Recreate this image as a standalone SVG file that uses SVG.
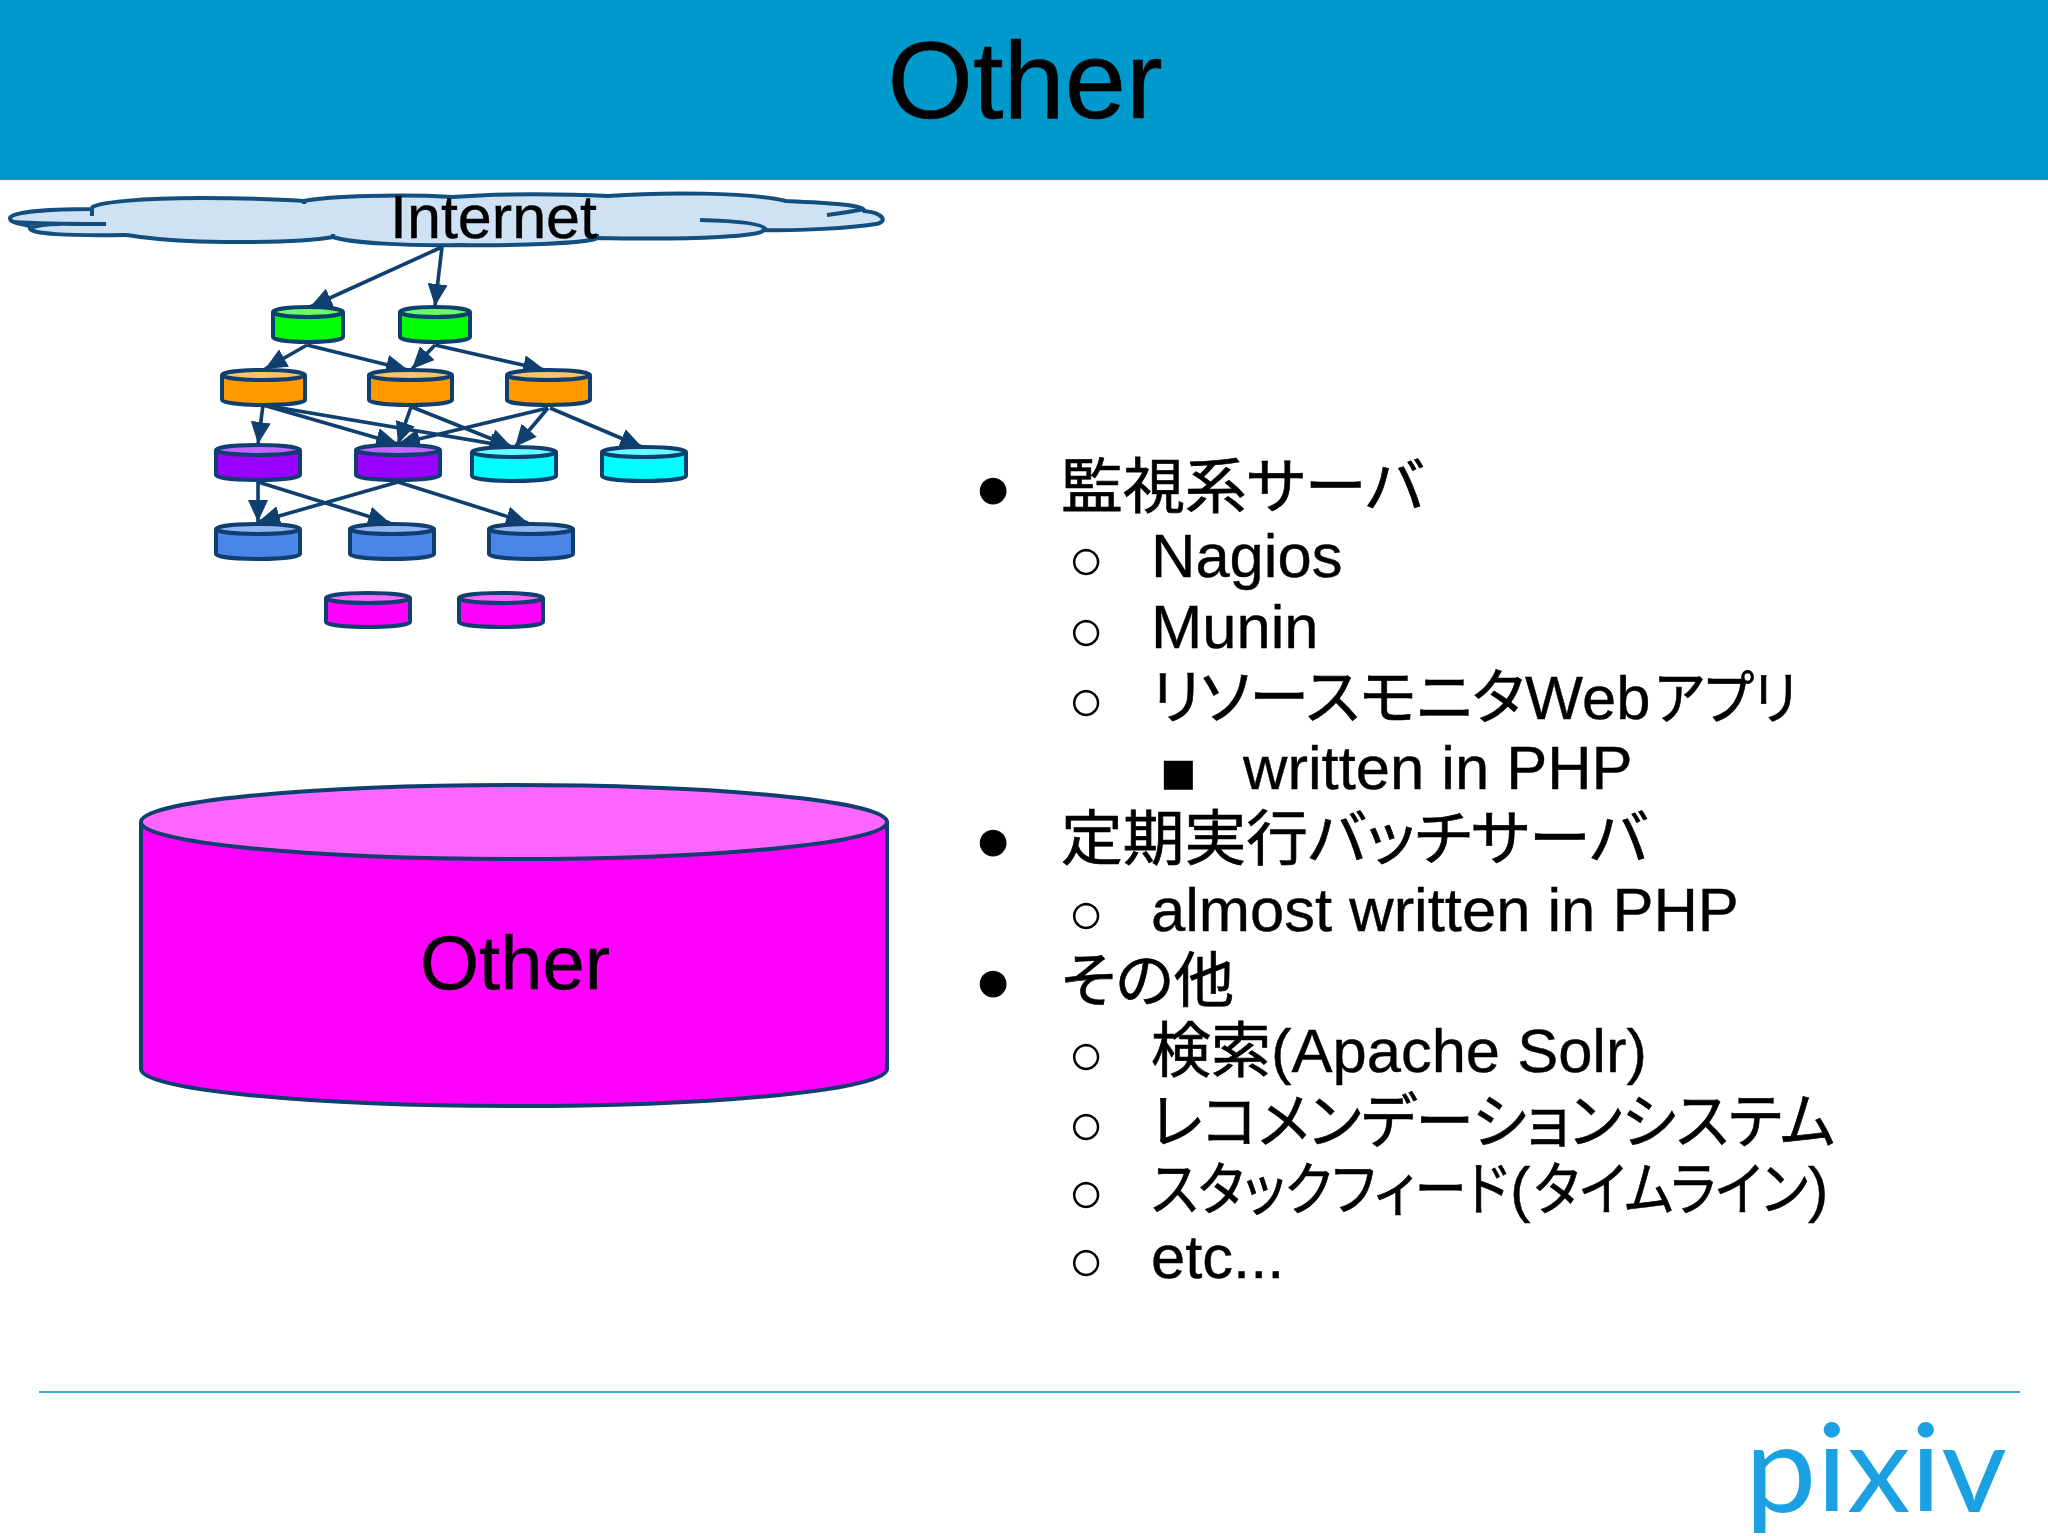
<svg xmlns="http://www.w3.org/2000/svg" width="2048" height="1536" viewBox="0 0 2048 1536">
<style>
text{font-family:"Liberation Sans","Noto Sans CJK JP",sans-serif;fill:#000}
.t{font-size:61.5px;stroke:#000;stroke-width:.4}
.j{font-family:"Noto Sans CJK JP","Liberation Sans",sans-serif;font-size:60px;font-feature-settings:"palt";stroke:#000;stroke-width:.7}
.k{font-family:"Noto Sans CJK JP","Liberation Sans",sans-serif;font-size:58px;font-feature-settings:"palt";stroke:#000;stroke-width:.7}
.b{font-size:60px}
.c{stroke:#0e3f6e;stroke-width:4;stroke-linejoin:round}
.e{fill:none;stroke:#0e3f6e;stroke-width:3.6;marker-end:url(#a)}
.cl{fill:none;stroke:#124f7f;stroke-width:4}
</style>
<defs>
<marker id="a" markerUnits="userSpaceOnUse" markerWidth="24" markerHeight="20" refX="22" refY="10" orient="auto"><path d="M0 0L22 10L0 20z" fill="#0e3f6e"/></marker>
</defs>
<rect width="2048" height="1536" fill="#fff"/>
<g id="header">
<rect width="2048" height="180" fill="#0099cc"/>
<text x="1025" y="118" font-size="110" text-anchor="middle" stroke="#000" stroke-width=".6">Other</text>
</g>
<g id="internet">
<path d="M10 218C12 212 50 209 92 209C88 202 150 198 200 198C250 198 290 200 304 201C330 196 400 194 453 197C500 193 570 194 608 196C660 192 750 192 786 201C830 203 866 205 864 211C884 213 888 222 876 224C850 228 800 231 763 230C765 236 700 240 597 238C590 243 520 246 459 245C410 246 350 243 333 237C300 243 200 244 150 238C130 236 132 235 125 235C70 236 28 234 30 228C32 225 20 225 14 222C10 221 10 219 10 218Z" fill="#cfe2f3" stroke="#124f7f" stroke-width="4" stroke-linejoin="round"/>
<path class="cl" d="M14 222Q40 224 106 224M30 228Q40 224 60 224M700 220C740 221 765 224 766 230M827 215Q850 212 864 209M92 209V216M304 199V204M333 238V234M597 238V234"/>
<text x="390" y="238" font-size="61" textLength="207" lengthAdjust="spacingAndGlyphs" stroke="#000" stroke-width=".4">Internet</text>
</g>
<g id="connectors">
<path class="e" d="M442 247L310 307"/>
<path class="e" d="M442 247L435 306"/>
<path class="e" d="M307 345L265 369"/>
<path class="e" d="M307 345L408 370"/>
<path class="e" d="M435 345L412 369"/>
<path class="e" d="M435 345L545 370"/>
<path class="e" d="M263 405L258 444"/>
<path class="e" d="M263 405L398 444"/>
<path class="e" d="M263 405L512 447"/>
<path class="e" d="M411 407L398 444"/>
<path class="e" d="M412 407L512 447"/>
<path class="e" d="M548 408L398 444"/>
<path class="e" d="M548 408L515 447"/>
<path class="e" d="M550 408L642 447"/>
<path class="e" d="M258 482V522"/>
<path class="e" d="M258 482L390 523"/>
<path class="e" d="M398 482L258 522"/>
<path class="e" d="M398 482L528 523"/>
</g>
<g id="web1"><path class="c" fill="#00ff00" d="M273 312V337A35 5 0 0 0 343 337V312"/><ellipse class="c" cx="308" cy="312" rx="35" ry="5" fill="#66ff66"/></g>
<g id="web2"><path class="c" fill="#00ff00" d="M400 312V337A35 5 0 0 0 470 337V312"/><ellipse class="c" cx="435" cy="312" rx="35" ry="5" fill="#66ff66"/></g>
<g id="app1"><path class="c" fill="#ff9900" d="M222 375V400A41.500 5 0 0 0 305 400V375"/><ellipse class="c" cx="263.500" cy="375" rx="41.500" ry="5" fill="#ffc266"/></g>
<g id="app2"><path class="c" fill="#ff9900" d="M369 375V400A41.500 5 0 0 0 452 400V375"/><ellipse class="c" cx="410.500" cy="375" rx="41.500" ry="5" fill="#ffc266"/></g>
<g id="app3"><path class="c" fill="#ff9900" d="M507 375V400A41.500 5 0 0 0 590 400V375"/><ellipse class="c" cx="548.500" cy="375" rx="41.500" ry="5" fill="#ffc266"/></g>
<g id="db1"><path class="c" fill="#9900ff" d="M216 450V475A42 5 0 0 0 300 475V450"/><ellipse class="c" cx="258" cy="450" rx="42" ry="5" fill="#c266ff"/></g>
<g id="db2"><path class="c" fill="#9900ff" d="M356 450V475A42 5 0 0 0 440 475V450"/><ellipse class="c" cx="398" cy="450" rx="42" ry="5" fill="#c266ff"/></g>
<g id="cache1"><path class="c" fill="#00ffff" d="M472 452V476A42 5 0 0 0 556 476V452"/><ellipse class="c" cx="514" cy="452" rx="42" ry="5" fill="#66ffff"/></g>
<g id="cache2"><path class="c" fill="#00ffff" d="M602 452V476A42 5 0 0 0 686 476V452"/><ellipse class="c" cx="644" cy="452" rx="42" ry="5" fill="#66ffff"/></g>
<g id="store1"><path class="c" fill="#4a86e8" d="M216 529V554A42 5 0 0 0 300 554V529"/><ellipse class="c" cx="258" cy="529" rx="42" ry="5" fill="#92b6f1"/></g>
<g id="store2"><path class="c" fill="#4a86e8" d="M350 529V554A42 5 0 0 0 434 554V529"/><ellipse class="c" cx="392" cy="529" rx="42" ry="5" fill="#92b6f1"/></g>
<g id="store3"><path class="c" fill="#4a86e8" d="M489 529V554A42 5 0 0 0 573 554V529"/><ellipse class="c" cx="531" cy="529" rx="42" ry="5" fill="#92b6f1"/></g>
<g id="other1"><path class="c" fill="#ff00ff" d="M326 598V622A42 5 0 0 0 410 622V598"/><ellipse class="c" cx="368" cy="598" rx="42" ry="5" fill="#ff66ff"/></g>
<g id="other2"><path class="c" fill="#ff00ff" d="M459 598V622A42 5 0 0 0 543 622V598"/><ellipse class="c" cx="501" cy="598" rx="42" ry="5" fill="#ff66ff"/></g>
<g id="other-large">
<path class="c" fill="#ff00ff" d="M141 822V1069A373 37 0 0 0 887 1069V822"/>
<ellipse class="c" cx="514" cy="822" rx="373" ry="37" fill="#ff66ff"/>
<text x="515" y="989" font-size="76" text-anchor="middle" stroke="#000" stroke-width=".4">Other</text>
</g>
<g id="list">
<text class="b" x="975" y="508" stroke="#000">●</text><text class="j" x="1061" y="508" textLength="363" lengthAdjust="spacingAndGlyphs">監視系サーバ</text>
<text class="b" x="1068" y="580">○</text><text class="t" x="1151" y="577">Nagios</text>
<text class="b" x="1068" y="651">○</text><text class="t" x="1151" y="648">Munin</text>
<text class="b" x="1068" y="721">○</text><text class="t" x="1151" y="719"><tspan class="j">リソースモニタ</tspan><tspan x="1525">Web</tspan><tspan class="k" x="1655" textLength="142" lengthAdjust="spacingAndGlyphs">アプリ</tspan></text>
<text class="b" x="1160" y="793">■</text><text class="t" x="1243" y="789">written in PHP</text>
<text class="b" x="975" y="860" stroke="#000">●</text><text class="j" x="1061" y="860" textLength="587" lengthAdjust="spacingAndGlyphs">定期実行バッチサーバ</text>
<text class="b" x="1068" y="934">○</text><text class="t" x="1151" y="931">almost written in PHP</text>
<text class="b" x="975" y="1001" stroke="#000">●</text><text class="j" x="1061" y="1002" textLength="173" lengthAdjust="spacingAndGlyphs">その他</text>
<text class="b" x="1068" y="1075">○</text><text class="t" x="1151" y="1072"><tspan class="j">検索</tspan>(Apache Solr)</text>
<text class="b" x="1068" y="1145">○</text><text class="j" x="1151" y="1143" textLength="684" lengthAdjust="spacingAndGlyphs">レコメンデーションシステム</text>
<text class="b" x="1068" y="1213">○</text><text class="t" x="1151" y="1210"><tspan class="k" textLength="357" lengthAdjust="spacingAndGlyphs">スタックフィード</tspan><tspan x="1510">(</tspan><tspan class="k" x="1534" textLength="274" lengthAdjust="spacingAndGlyphs">タイムライン</tspan><tspan x="1808">)</tspan></text>
<text class="b" x="1068" y="1281">○</text><text class="t" x="1151" y="1278">etc...</text>
</g>
<g id="footer">
<line x1="39" y1="1392" x2="2020" y2="1392" stroke="#3fa9d8" stroke-width="2"/>
<text x="1745" y="1512" textLength="262" lengthAdjust="spacingAndGlyphs" style="font-family:Lato,sans-serif;font-size:122px;fill:#1ba1e2">pixiv</text>
</g>
</svg>
